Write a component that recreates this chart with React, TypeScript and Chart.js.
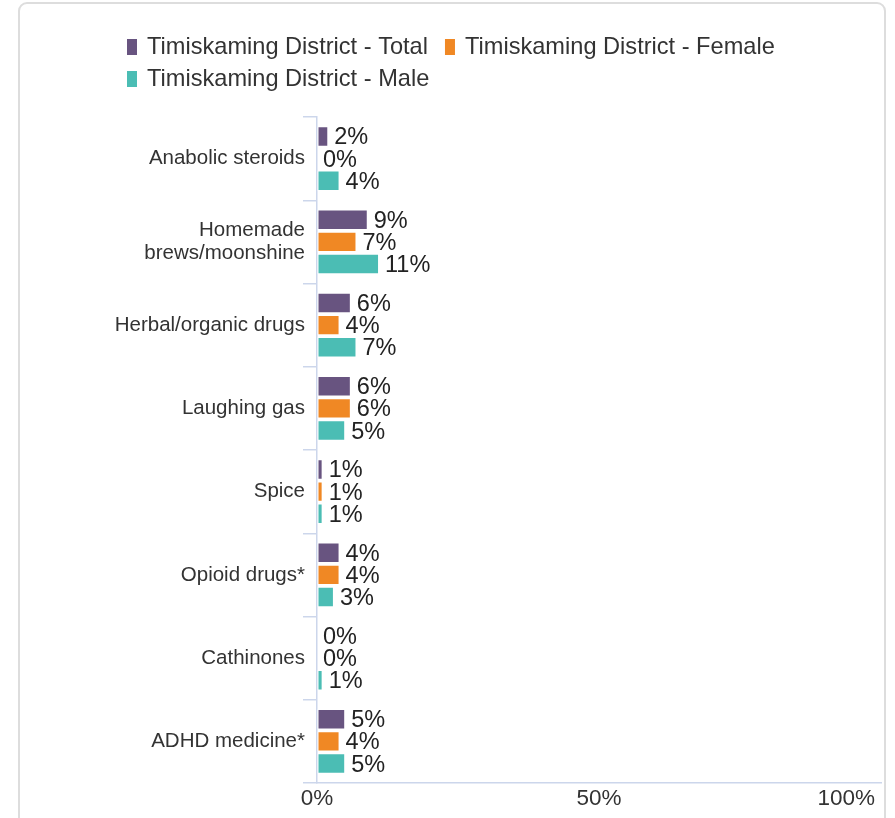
import React, { useEffect, useRef } from 'react';
import { Chart, registerables } from 'chart.js';

Chart.register(...registerables);

const categories: (string | string[])[] = [
  'Anabolic steroids',
  ['Homemade', 'brews/moonshine'],
  'Herbal/organic drugs',
  'Laughing gas',
  'Spice',
  'Opioid drugs*',
  'Cathinones',
  'ADHD medicine*',
];
const seriesNames = [
  'Timiskaming District - Total',
  'Timiskaming District - Female',
  'Timiskaming District - Male',
];
const totalValues = [2, 9, 6, 6, 1, 4, 0, 5];
const femaleValues = [0, 7, 4, 6, 1, 4, 0, 4];
const maleValues = [4, 11, 7, 5, 1, 3, 1, 5];
const seriesColors = ['#685480', '#f08824', '#4bbdb4'];
const xTickValues = [0, 50, 100];

const FONT = '"Liberation Sans", Arial, Helvetica, sans-serif';

const legendPlugin = {
  id: 'customLegend',
  afterDraw(chart: any) {
    const ctx = chart.ctx;
    ctx.save();
    ctx.font = `23.6px ${FONT}`;
    ctx.textBaseline = 'alphabetic';
    const startX = 127;
    const maxRight = 880;
    let x = startX;
    let row = 0;
    chart.data.datasets.forEach((ds: any) => {
      const w = 20 + ctx.measureText(ds.label).width;
      if (x > startX && x + w > maxRight) {
        x = startX;
        row += 1;
      }
      const top = 39 + row * 32;
      ctx.fillStyle = ds.backgroundColor;
      ctx.fillRect(x, top, 10, 16);
      ctx.fillStyle = '#333333';
      ctx.fillText(ds.label, x + 20, top + 15);
      x += w + 17;
    });
    ctx.restore();
  },
};

const dataLabelPlugin = {
  id: 'dataLabels',
  afterDatasetsDraw(chart: any) {
    const ctx = chart.ctx;
    ctx.save();
    ctx.font = `23.5px ${FONT}`;
    ctx.textBaseline = 'middle';
    ctx.textAlign = 'left';
    ctx.lineJoin = 'round';
    chart.data.datasets.forEach((ds: any, di: number) => {
      const meta = chart.getDatasetMeta(di);
      meta.data.forEach((el: any, i: number) => {
        const txt = `${ds.data[i]}%`;
        const x = el.x + 6;
        const y = el.y + 1.5;
        ctx.strokeStyle = '#ffffff';
        ctx.lineWidth = 3;
        ctx.strokeText(txt, x, y);
        ctx.fillStyle = '#222222';
        ctx.fillText(txt, x, y);
      });
    });
    ctx.restore();
  },
};

const xLabelPlugin = {
  id: 'xLabels',
  afterDraw(chart: any) {
    const ctx = chart.ctx;
    const scale = chart.scales.x;
    ctx.save();
    ctx.font = `22.5px ${FONT}`;
    ctx.textBaseline = 'alphabetic';
    ctx.textAlign = 'left';
    ctx.fillStyle = '#333333';
    const rightLimit = chart.width - 20;
    xTickValues.forEach((v) => {
      const txt = `${v}%`;
      const w = ctx.measureText(txt).width;
      const px = scale.getPixelForValue(v);
      let left = px - w / 2;
      if (left + w > rightLimit) left = rightLimit - w;
      ctx.fillText(txt, left, scale.top + 22);
    });
    ctx.restore();
  },
};

export default function App() {
  const canvasRef = useRef<HTMLCanvasElement | null>(null);

  useEffect(() => {
    if (!canvasRef.current) return;
    const datasetValues = [totalValues, femaleValues, maleValues];
    const chart = new Chart(canvasRef.current, {
      type: 'bar',
      data: {
        labels: categories,
        datasets: seriesNames.map((name, i) => ({
          label: name,
          data: datasetValues[i],
          backgroundColor: seriesColors[i],
          borderColor: '#ffffff',
          borderWidth: 1,
          borderSkipped: false,
          categoryPercentage: 0.8,
          barPercentage: 0.92,
        })),
      },
      options: {
        indexAxis: 'y',
        responsive: false,
        animation: false,
        devicePixelRatio: 1,
        layout: { padding: { top: 117, left: 100, right: 14, bottom: 0 } },
        plugins: {
          legend: { display: false },
          tooltip: { enabled: false },
        },
        scales: {
          x: {
            min: 0,
            max: 100,
            ticks: { display: false, stepSize: 50 },
            grid: { display: true, drawOnChartArea: false, drawTicks: false, color: '#ccd6eb' },
            border: { display: true, color: '#ccd6eb', width: 1.5 },
            afterFit: (s: any) => {
              s.height = 35;
            },
          },
          y: {
            type: 'category',
            grid: {
              offset: true,
              drawOnChartArea: false,
              drawTicks: true,
              tickLength: 14,
              lineWidth: 1.5,
              color: '#ccd6eb',
            },
            border: { display: true, color: '#ccd6eb', width: 1.5 },
            ticks: {
              color: '#333333',
              padding: -2,
              font: { family: FONT, size: 20.5, lineHeight: 1.15 },
            },
            afterFit: (s: any) => {
              s.width = 217;
            },
          },
        },
      },
      plugins: [legendPlugin, dataLabelPlugin, xLabelPlugin],
    });
    return () => chart.destroy();
  }, []);

  return (
    <div
      style={{
        position: 'absolute',
        left: 0,
        top: 0,
        width: 895,
        height: 818,
        overflow: 'hidden',
        background: '#ffffff',
      }}
    >
      <div
        style={{
          position: 'absolute',
          left: 18,
          top: 2,
          width: 868,
          height: 900,
          boxSizing: 'border-box',
          border: '2px solid #dddddd',
          borderRadius: 9,
        }}
      />
      <canvas
        ref={canvasRef}
        width={895}
        height={818}
        style={{ position: 'absolute', left: 0, top: 0, width: 895, height: 818 }}
      />
    </div>
  );
}
